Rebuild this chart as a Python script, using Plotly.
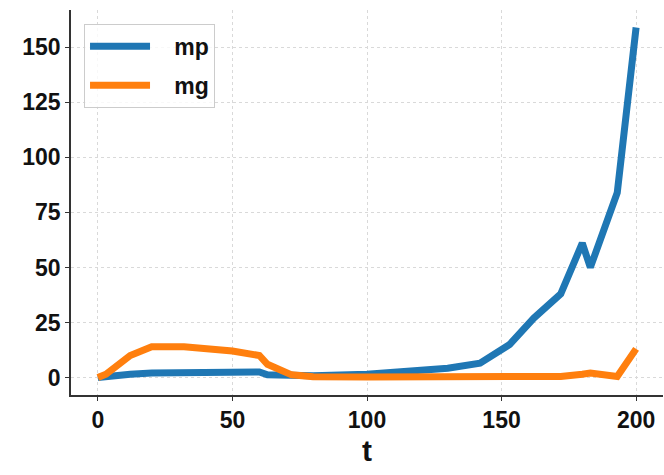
import plotly.graph_objects as go

t = [0, 3, 12, 20, 32, 50, 60, 63, 72, 80, 100, 120, 130, 142, 153, 162, 172, 180, 183, 193, 200]
mp = [0, 0.5, 1.5, 2, 2.2, 2.4, 2.5, 1.2, 0.8, 0.8, 1.5, 3, 4.2, 6.5, 15, 27, 38, 61, 50, 84, 159]
mg = [0, 1.5, 10, 14, 14, 12, 10, 6, 1.2, 0.3, 0.2, 0.2, 0.2, 0.2, 0.2, 0.3, 0.5, 1.5, 2, 0.5, 13]

x_ticks = [0, 50, 100, 150, 200]
y_ticks = [0, 25, 50, 75, 100, 125, 150]

pad = "\u00a0\u00a0\u00a0"

fig = go.Figure()
fig.add_trace(go.Scatter(x=t, y=mp, mode="lines", name=pad + "mp", legendgroup="a",
                         line=dict(color="#1f77b4", width=7)))
fig.add_trace(go.Scatter(x=t, y=mg, mode="lines", name=pad + "mg", legendgroup="b",
                         line=dict(color="#ff7f0e", width=7)))

axis_common = dict(
    showline=True, linecolor="#333333", linewidth=1.5,
    ticks="outside", ticklen=4, tickcolor="#333333",
    showgrid=True, gridcolor="#d9d9d9", griddash="dot", gridwidth=1,
    zeroline=False, mirror=False,
    tickfont=dict(size=23, color="#111111", family="Arial, Liberation Sans", weight="bold"),
)

fig.update_layout(
    width=664, height=475,
    margin=dict(l=71, r=1, t=10, b=80),
    paper_bgcolor="white", plot_bgcolor="white",
    font=dict(family="Arial, Liberation Sans", weight="bold", color="#111111"),
    xaxis=dict(range=[-10, 210], tickvals=x_ticks, **axis_common,
               title=dict(text="t", font=dict(size=30, family="Arial, Liberation Sans", weight="bold", color="#111111"), standoff=8)),
    yaxis=dict(range=[-7.95, 166.95], tickvals=y_ticks, **axis_common),
    legend=dict(x=0.022, y=0.964, xanchor="left", yanchor="top",
                bgcolor="rgba(255,255,255,0.8)", bordercolor="#cccccc", borderwidth=1,
                font=dict(size=23, family="Arial, Liberation Sans", weight="bold", color="#111111"),
                itemwidth=60, tracegroupgap=6),
    showlegend=True,
)

fig.write_html("out.html")
